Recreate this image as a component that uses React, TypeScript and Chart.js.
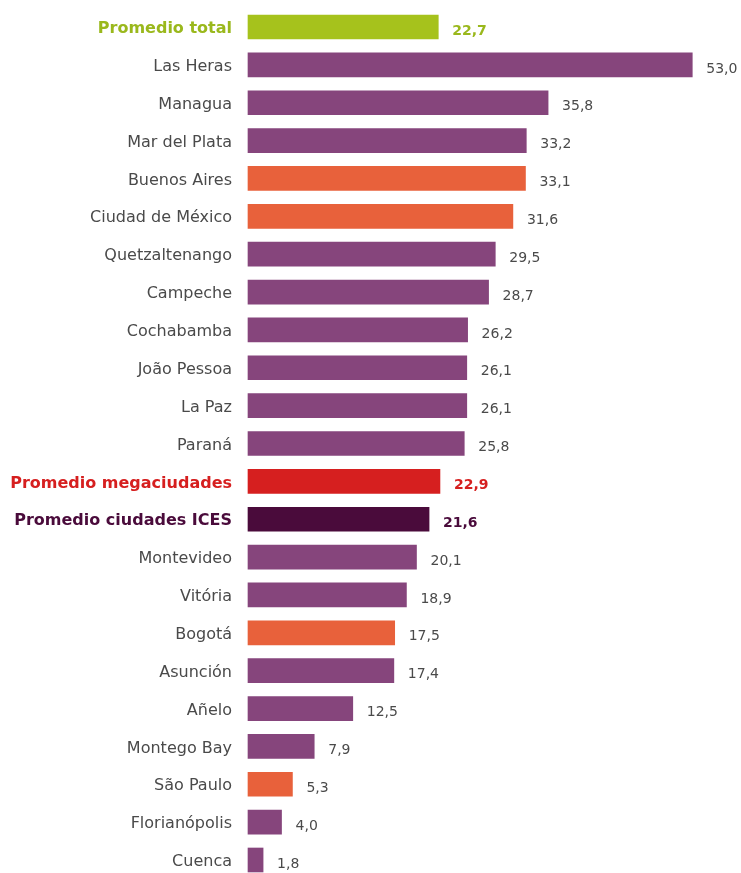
import React, { useEffect, useRef } from "react";
import { Chart, registerables } from "chart.js";

Chart.register(...registerables);

const categories = [
  "Promedio total", "Las Heras", "Managua", "Mar del Plata", "Buenos Aires",
  "Ciudad de México", "Quetzaltenango", "Campeche", "Cochabamba", "João Pessoa",
  "La Paz", "Paraná", "Promedio megaciudades", "Promedio ciudades ICES",
  "Montevideo", "Vitória", "Bogotá", "Asunción", "Añelo", "Montego Bay",
  "São Paulo", "Florianópolis", "Cuenca",
];

const values = [
  22.7, 53.0, 35.8, 33.2, 33.1, 31.6, 29.5, 28.7, 26.2, 26.1, 26.1, 25.8,
  22.9, 21.6, 20.1, 18.9, 17.5, 17.4, 12.5, 7.9, 5.3, 4.0, 1.8,
];

// group: t = total, p = city, o = megacity, m = megacity avg, i = ICES avg
const groups = [
  "t", "p", "p", "p", "o", "o", "p", "p", "p", "p", "p", "p",
  "m", "i", "p", "p", "o", "p", "p", "p", "o", "p", "p",
];

const barColors: Record<string, string> = {
  t: "#a6c21c", p: "#86457c", o: "#e8613b", m: "#d61f1f", i: "#4a0b3b",
};
const textColors: Record<string, string> = {
  t: "#9ab81c", p: "#4a4a4a", o: "#4a4a4a", m: "#d61f1f", i: "#4a0b3b",
};

const FONT = "'DejaVu Sans', sans-serif";

export default function App() {
  const ref = useRef<HTMLCanvasElement | null>(null);
  useEffect(() => {
    document.body.style.margin = "0";
    const labelPlugin = {
      id: "labels",
      afterDatasetsDraw(chart: any) {
        const ctx = chart.ctx;
        const meta = chart.getDatasetMeta(0);
        const yScale = chart.scales.y;
        ctx.save();
        ctx.textBaseline = "middle";
        meta.data.forEach((bar: any, i: number) => {
          const g = groups[i];
          const bold = g === "t" || g === "m" || g === "i";
          const y = yScale.getPixelForTick(i);
          // category label
          ctx.textAlign = "right";
          ctx.font = `${bold ? "bold " : ""}16px ${FONT}`;
          ctx.fillStyle = textColors[g];
          ctx.fillText(categories[i], yScale.right - 16, y + 2);
          // value label
          ctx.textAlign = "left";
          ctx.font = `${bold ? "bold " : ""}14px ${FONT}`;
          const txt = values[i].toFixed(1).replace(".", ",");
          ctx.fillText(txt, bar.x + 14, y + 4);
        });
        ctx.restore();
      },
    };
    const chart = new Chart(ref.current!, {
      type: "bar",
      data: {
        labels: categories,
        datasets: [
          {
            data: values,
            backgroundColor: groups.map((g) => barColors[g]),
            barThickness: 24,
            clip: false,
          },
        ],
      },
      options: {
        indexAxis: "y",
        animation: false,
        responsive: false,
        layout: { padding: { top: 27, bottom: 13, right: 11, left: 0 } },
        plugins: { legend: { display: false }, tooltip: { enabled: false } },
        scales: {
          x: {
            min: 0,
            max: 57.5,
            display: false,
            grid: { display: false },
          },
          y: {
            offset: false,
            border: { display: false },
            grid: { display: false, drawTicks: false },
            afterFit: (scale: any) => {
              scale.width = 248;
            },
            ticks: { display: false },
          },
        },
      },
      plugins: [labelPlugin],
    } as any);
    return () => chart.destroy();
  }, []);
  return <canvas ref={ref} width={741} height={873} style={{ display: "block" }} />;
}
